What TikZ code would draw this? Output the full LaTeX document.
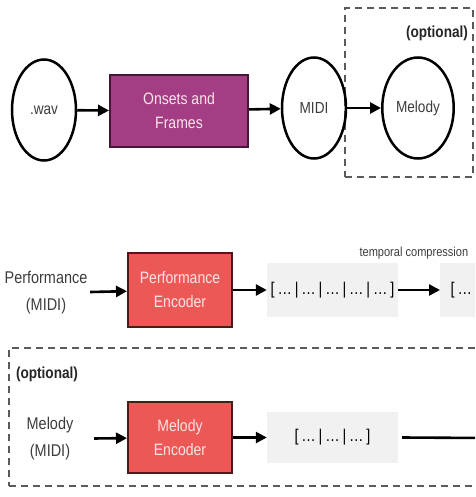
\documentclass[tikz,border=0pt]{standalone}
\usepackage{fontspec}
\setmainfont{Liberation Sans}[FakeStretch=0.85]
\usetikzlibrary{shapes,arrows.meta}
\definecolor{oafpurple}{RGB}{163,62,133}
\definecolor{oafedge}{RGB}{70,22,55}
\definecolor{encred}{RGB}{236,88,86}
\definecolor{encedge}{RGB}{80,25,25}
\definecolor{boxtext}{RGB}{250,228,232}
\definecolor{seqgray}{RGB}{241,241,241}
\definecolor{inkgray}{RGB}{60,60,60}
\definecolor{dashgray}{RGB}{90,90,90}

\begin{document}
\begin{tikzpicture}[x=1pt,y=-1pt]
\tikzstyle{blob}=[draw,ellipse,line width=2.5pt,minimum width=64pt,minimum height=101pt,text=inkgray,font=\fontsize{16}{19}\selectfont];
\tikzstyle{net}=[draw=encedge,fill=encred,line width=2pt,minimum width=104pt,minimum height=72pt,align=center,text=boxtext,font=\fontsize{16.5}{24}\selectfont];
\tikzstyle{seq}=[fill=seqgray,minimum width=131pt,minimum height=54pt,font=\fontsize{17}{20}\selectfont];
\tikzstyle{inp}=[text width=84pt,align=center,inner sep=2pt,text=inkgray,font=\fontsize{17}{27}\selectfont];
\tikzstyle{opt}=[draw=dashgray,line width=2pt,dash pattern=on 7pt off 5pt];
\tikzstyle{tag}=[text=black!85,font=\bfseries\fontsize{16}{19}\selectfont];
\tikzstyle{dir}=[-{Triangle[length=11pt,width=11pt]},line width=2.6pt];
\useasboundingbox (0,0) rectangle (475,497);
\clip (0,0) rectangle (475,497);
% transcription
\node [opt,minimum width=128pt,minimum height=169pt] (optA) at (409,92.5) {};
\node [tag] (tagA) at (437,33) {(optional)};
\node [blob] (wav) at (44,110) {.wav};
\node [net,draw=oafedge,fill=oafpurple,minimum width=138pt] (oaf) at (179,111) {Onsets and\\Frames};
\node [blob] (midi) at (314,108) {MIDI};
\node [blob,minimum width=66pt] (mel) at (418,108) {Melody};
\draw [dir] (wav) edge (oaf);
\draw [dir] (oaf) edge (midi);
\draw [dir] (midi) edge (mel);
% performance branch
\node [inp] (perfin) at (46,293) {Performance\\(MIDI)};
\node [net,minimum height=74pt] (perfenc) at (180,290) {Performance\\Encoder};
\node [seq] (seqA) at (332.5,290) {[\,\ldots\,|\,\ldots\,|\,\ldots\,|\,\ldots\,|\,\ldots\,]};
\node [seq,anchor=west,text width=110pt] (seqB) at (440,290) {[\,\ldots};
\node [anchor=west,text=inkgray,font=\fontsize{13}{15}\selectfont] (comp) at (356,253) {temporal compression};
\draw [dir] (perfin) edge (perfenc);
\draw [dir] (perfenc) edge (seqA);
\draw [dir] (seqA) edge (seqB);
% melody branch
\node [opt,anchor=north west,minimum width=500pt,minimum height=138pt] (optB) at (8,347) {};
\node [tag] (tagB) at (47,374) {(optional)};
\node [inp] (melin) at (50,439) {Melody\\(MIDI)};
\node [net,minimum height=71pt] (melenc) at (180,437.5) {Melody\\Encoder};
\node [seq,minimum height=51pt] (seqC) at (332.5,437.5) {[\,\ldots\,|\,\ldots\,|\,\ldots\,]};
\coordinate (out) at (485,438);
\draw [dir] (melin) edge (melenc);
\draw [dir] (melenc) edge (seqC);
\draw [line width=2.6pt] ([xshift=4pt]seqC.east) -- (out);
\end{tikzpicture}
\end{document}
